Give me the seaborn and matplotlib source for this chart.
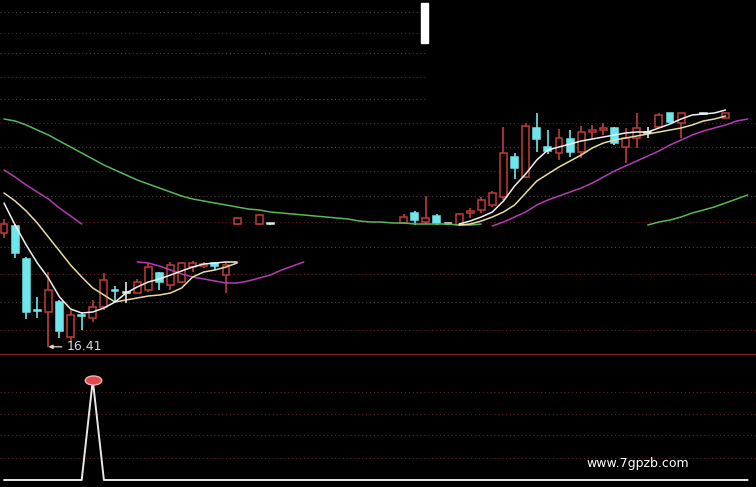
import numpy as np
import pandas as pd
import seaborn as sns
import matplotlib.pyplot as plt
from matplotlib.patches import Rectangle
from matplotlib.markers import MarkerStyle
from matplotlib.transforms import Affine2D

sns.set_style('dark')
plt.rcParams['font.family'] = ['DejaVu Sans']

nan = np.nan

# candles (price), index = trading day; NaN = nothing drawn
opens = [22.10, 22.45, 20.80, 18.25, 18.15, 18.65, 16.90, 18.00, 17.85, 18.40,
         19.25, 19.15, 19.10, 19.25, 20.10, 19.50, 19.65, 20.40, 20.45, 20.60,
         20.00, 22.55, nan, 22.55, 22.55, nan, nan, nan, nan, nan,
         nan, nan, nan, nan, nan, nan, 22.60, 23.10, 22.65, 22.95,
         22.55, 22.50, 23.10, 23.25, 23.50, 23.90, 25.90, 24.90, 27.35, 26.40,
         26.10, 26.80, 26.15, 27.15, 27.25, 27.35, 26.40, 26.85, 27.15, 27.40,
         28.10, 27.60, nan, 28.05, nan, 27.85, nan, nan]
highs = [22.80, 22.55, 20.90, 18.90, 20.15, 18.75, 18.25, 18.15, 18.75, 20.10,
         19.45, 19.65, 19.80, 20.60, 20.15, 20.65, 20.65, 20.70, 20.65, 20.65,
         20.65, 22.90, nan, 23.05, 22.60, nan, nan, nan, nan, nan,
         nan, nan, nan, nan, nan, nan, 23.05, 23.20, 23.95, 23.05,
         22.60, 23.10, 23.35, 23.90, 24.20, 27.40, 26.10, 27.60, 28.10, 27.25,
         27.30, 27.25, 27.45, 27.50, 27.60, 27.40, 27.35, 28.10, 27.40, 28.10,
         28.10, 28.10, nan, 28.10, nan, 28.10, nan, nan]
lows = [21.85, 20.85, 17.80, 17.85, 16.41, 16.85, 16.65, 17.25, 17.65, 18.25,
        18.65, 18.60, 19.10, 19.15, 19.25, 19.25, 19.60, 20.15, 20.35, 20.25,
        19.10, 22.50, nan, 22.50, 22.50, nan, nan, nan, nan, nan,
        nan, nan, nan, nan, nan, nan, 22.55, 22.50, 22.55, 22.50,
        22.50, 22.50, 22.85, 23.10, 23.40, 23.75, 24.80, 24.85, 26.15, 26.05,
        25.75, 25.90, 25.85, 26.80, 27.00, 26.50, 25.60, 26.35, 26.85, 27.35,
        27.60, 26.85, nan, 28.00, nan, 27.80, nan, nan]
closes = [22.55, 21.10, 18.15, 18.20, 19.25, 17.20, 18.00, 17.95, 18.40, 19.75,
          19.20, 19.10, 19.65, 20.40, 19.65, 20.50, 20.60, 20.60, 20.55, 20.45,
          20.50, 22.85, nan, 23.00, 22.55, nan, nan, nan, nan, nan,
          nan, nan, nan, nan, nan, nan, 22.90, 22.75, 22.85, 22.60,
          22.55, 23.05, 23.20, 23.75, 24.10, 26.10, 25.35, 27.45, 26.80, 26.20,
          26.85, 26.15, 27.15, 27.25, 27.35, 26.60, 26.85, 27.35, 27.10, 28.00,
          27.65, 28.10, nan, 28.05, nan, 28.10, nan, nan]

# moving averages
ma5 = [23.60, 22.50, 21.50, 20.60, 19.85, 18.90, 18.30, 18.10, 18.15, 18.35,
       18.65, 19.10, 19.40, 19.65, 19.80, 20.00, 20.20, 20.40, 20.55, 20.60,
       20.65, 20.65, nan, nan, nan, nan, nan, nan, nan, nan,
       nan, nan, nan, nan, nan, nan, nan, nan, nan, nan,
       nan, 22.55, 22.70, 22.90, 23.15, 23.70, 24.45, 25.05, 25.75, 26.25,
       26.40, 26.55, 26.70, 26.80, 26.90, 27.00, 27.10, 27.15, 27.15, 27.35,
       27.55, 27.80, 28.00, 28.05, 28.10, 28.25, nan, nan]
ma10 = [24.10, 23.70, 23.20, 22.60, 21.90, 21.20, 20.50, 19.90, 19.35, 19.00,
        18.65, 18.75, 18.85, 18.95, 19.00, 19.10, 19.35, 19.90, 20.15, 20.25,
        20.40, 20.60, nan, nan, nan, nan, nan, nan, nan, nan,
        nan, nan, nan, nan, nan, nan, nan, nan, nan, nan,
        nan, 22.50, 22.55, 22.70, 22.90, 23.15, 23.50, 24.10, 24.70, 25.05,
        25.40, 25.70, 26.00, 26.35, 26.60, 26.75, 26.85, 26.95, 27.05, 27.15,
        27.25, 27.35, 27.50, 27.70, 27.80, 27.95, nan, nan]
ma20 = [25.25, 24.90, 24.50, 24.15, 23.80, 23.35, 22.95, 22.55, nan, nan,
        nan, nan, 20.65, 20.60, 20.45, 20.25, 20.05, 19.90, 19.80, 19.70,
        19.60, 19.60, 19.70, 19.85, 20.00, 20.25, 20.45, 20.65, nan, nan,
        nan, nan, nan, nan, nan, nan, nan, nan, nan, nan,
        nan, nan, nan, nan, 22.45, 22.65, 22.90, 23.15, 23.50, 23.75,
        23.95, 24.15, 24.35, 24.60, 24.90, 25.20, 25.45, 25.70, 25.95, 26.20,
        26.50, 26.75, 27.00, 27.20, 27.35, 27.50, 27.70, 27.80]
ma60 = [27.80, 27.70, 27.50, 27.25, 27.00, 26.70, 26.40, 26.10, 25.80, 25.50,
        25.25, 25.00, 24.75, 24.55, 24.35, 24.15, 23.95, 23.80, 23.70, 23.60,
        23.50, 23.40, 23.30, 23.25, 23.15, 23.10, 23.05, 23.00, 22.95, 22.90,
        22.85, 22.80, 22.70, 22.65, 22.65, 22.60, 22.60, 22.55, 22.55, 22.55,
        22.55, 22.50, 22.50, 22.55, nan, nan, nan, nan, nan, nan,
        nan, nan, nan, nan, nan, nan, nan, nan, 22.50, 22.65,
        22.75, 22.90, 23.10, 23.25, 23.40, 23.60, 23.80, 24.00]

# lower indicator
signal = [0] * 8 + [100] + [0] * 59

grid_top = [33.15, 32.10, 31.10, 29.90, 28.80]
grid_main = [27.60, 26.40, 25.20, 23.95, 22.65, 21.40, 20.05, 18.65, 17.25]
grid_low = [88, 66, 45, 22]
low_price = 16.41
site = 'www.7gpzb.com'

df = pd.DataFrame({'open': opens, 'high': highs, 'low': lows, 'close': closes,
                   'ma5': ma5, 'ma10': ma10, 'ma20': ma20, 'ma60': ma60,
                   'signal': signal})

RED = '#c03c38'
CYAN = '#6fe6ec'
PALE = '#d8ecec'

fig = plt.figure(figsize=(7.56, 4.87), dpi=100, facecolor='black')
ax = fig.add_axes([0, 132 / 487, 1, 355 / 487])
ax2 = fig.add_axes([0, 0, 1, 132 / 487])
for a in (ax, ax2):
    a.set_facecolor('black')
    a.set_xticks([])
    a.set_yticks([])
    for s in a.spines.values():
        s.set_visible(False)
    a.set_xlim(-0.36, 67.75)
ax.set_ylim(16.0, 33.75)
ax2.set_ylim(-7, 125)

# dotted grid
for k, g in enumerate(grid_top):
    ax.axhline(g, xmax=0.562, color='#6a2222' if k % 2 else '#4e4242', lw=0.8, ls=(0, (1, 2.5)))
for k, g in enumerate(grid_main):
    ax.axhline(g, color='#6a2222' if k % 2 == 0 else '#4e4242', lw=0.8, ls=(0, (1, 2.5)))
for g in grid_low:
    ax2.axhline(g, color='#5e2a2a', lw=0.8, ls=(0, (1, 2.5)))
ax.spines['bottom'].set_visible(True)
ax.spines['bottom'].set_color('#a02828')
ax.spines['bottom'].set_linewidth(1.2)

# candles
c = df.dropna(subset=['open'])
diff = c['close'] - c['open']
cols = np.where(diff.abs() <= 0.05, PALE, np.where(diff > 0, RED, CYAN))
ax.vlines(c.index, c['low'], c['high'], colors=cols, lw=1.2, zorder=2)
body = diff.abs().clip(lower=0.04)
bottom = c[['open', 'close']].min(axis=1)
face = np.where(diff > 0.05, 'black', cols)
ax.bar(c.index, body, bottom=bottom, width=0.62, color=face, edgecolor=cols,
       linewidth=1.1, zorder=3)


def draw_line(a, s, color):
    ok = s.notna()
    grp = (ok != ok.shift()).cumsum()
    for _, part in s[ok].groupby(grp[ok]):
        sns.lineplot(x=part.index, y=part.values, ax=a, color=color, lw=1.1,
                     estimator=None, sort=False, zorder=4)


draw_line(ax, df['ma60'], '#58b858')
draw_line(ax, df['ma20'], '#b43cb4')
draw_line(ax, df['ma10'], '#e8dca0')
draw_line(ax, df['ma5'], '#f4eeee')

ax.annotate(f'{low_price:.2f}', xy=(4, low_price), xytext=(13, 0),
            textcoords='offset points', va='center', ha='left',
            color='#d8d8d8', fontsize=9,
            arrowprops=dict(arrowstyle='-|>', color='#d8d8d8', lw=0.9,
                            shrinkA=1, shrinkB=0, mutation_scale=6))

# lower panel
sns.lineplot(x=df.index, y=df['signal'], ax=ax2, color='#e8e8e8', lw=1.4,
             estimator=None, sort=False)
peak = df['signal'].idxmax()
ell = MarkerStyle('o', transform=Affine2D().scale(1.0, 0.55))
ax2.scatter([peak], [df['signal'].max()], s=140, marker=ell, color='#e04a4a',
            edgecolor='#f4b0b0', linewidth=1, zorder=5)
for a in (ax, ax2):
    a.set_xlabel('')
    a.set_ylabel('')

fig.add_artist(Rectangle((421 / 756, 1 - 43 / 487), 7 / 756, 40 / 487,
                         transform=fig.transFigure, color='white'))
fig.text(0.843, 1 - 463 / 487, site, color='white', fontsize=9,
         ha='center', va='center')

fig.savefig('out.png', dpi=100, facecolor='black')
